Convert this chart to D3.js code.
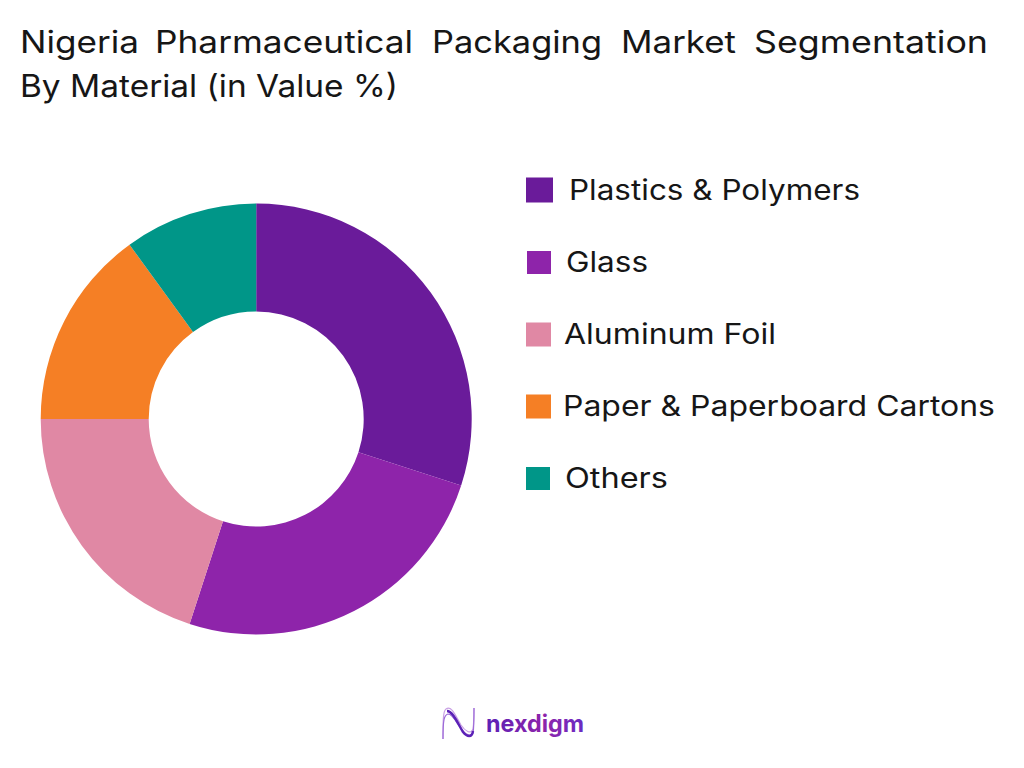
<!DOCTYPE html>
<html><head><meta charset="utf-8"><script src="https://cdn.jsdelivr.net/npm/d3@7"></script>
<style>html,body{margin:0;padding:0;background:#fff}svg{display:block}text{font-family:Inter,Lato,sans-serif;fill:#161616}</style></head>
<body><svg id="c" width="1024" height="768"></svg>
<script>
const categories=["Plastics & Polymers","Glass","Aluminum Foil","Paper & Paperboard Cartons","Others"];
const values=[30,25,20,15,10];
const colors=["#6A1B9A","#8E24AA","#E088A4","#F57F25","#009688"];
const titleLine1=["Nigeria","Pharmaceutical","Packaging","Market","Segmentation"];
const titleLine2="By Material (in Value %)";
const svg=d3.select("#c");
const defs=svg.append("defs");
const lg=defs.append("linearGradient").attr("id","brand").attr("x1","0").attr("x2","1");
lg.append("stop").attr("offset","0").attr("stop-color","#5B21B6");
lg.append("stop").attr("offset","0.6").attr("stop-color","#8E24AA");
lg.append("stop").attr("offset","1").attr("stop-color","#6A2BC4");
const titleX=[20,155,432,621,754],titleW=[119,258,170,115,234];
svg.selectAll("text.t").data(titleLine1).join("text").attr("class","t")
 .attr("x",(d,i)=>titleX[i]).attr("y",53).attr("font-size",31).attr("font-weight",400)
 .attr("textLength",(d,i)=>titleW[i]).attr("lengthAdjust","spacingAndGlyphs").text(d=>d);
svg.append("text").attr("x",20).attr("y",97).attr("font-size",31).attr("font-weight",400)
 .attr("textLength",378).attr("lengthAdjust","spacingAndGlyphs").text(titleLine2);
const pie=d3.pie().sort(null)(values);
const arc=d3.arc().innerRadius(107.5).outerRadius(215.5);
svg.append("g").attr("transform","translate(256.2,419)").selectAll("path").data(pie).join("path").attr("d",arc).attr("fill",(d,i)=>colors[i]);
const sy=d3.scalePoint().domain(categories).range([190,478]);
const lx=[569,566,564,563,565],lw=[291,82,212,432,103],sw=[27,24,25,25,24],sx=[526,527,526,526,526];
const g=svg.append("g");
categories.forEach((c,i)=>{const y=sy(c);
g.append("rect").attr("x",sx[i]).attr("y",y-sw[i]/2+1).attr("width",sw[i]).attr("height",sw[i]-(i==0?2:1)).attr("fill",colors[i]);
g.append("text").attr("x",lx[i]).attr("y",y+10).attr("font-size",28).attr("font-weight",400)
 .attr("textLength",lw[i]).attr("lengthAdjust","spacingAndGlyphs").text(c);});
const logo=svg.append("g").attr("fill","none");
logo.append("path").attr("d","M443 739 C443 722 443 711 446 709 C452 705 456 717 461 725 C465 731 471 735 473 729 C474 722 474 715 474 708").attr("stroke","#C9A0E4").attr("stroke-width",1.2);
logo.append("path").attr("d","M443 739 C443 720 444 715 448 714 C453 714 457 724 462 730 C466 735 471 737 473 733 C474 728 474 720 474 708").attr("stroke","#9C6AD8").attr("stroke-width",1.2);
logo.append("path").attr("d","M447 711 C453 711 458 724 463 732 C467 737 472 738 473 731").attr("stroke","#5B21B6").attr("stroke-width",2.4);
logo.append("text").attr("x",486).attr("y",732).attr("font-size",24).attr("font-weight",700)
 .attr("textLength",98).attr("lengthAdjust","spacingAndGlyphs").style("fill","url(#brand)").text("nexdigm");
</script></body></html>
